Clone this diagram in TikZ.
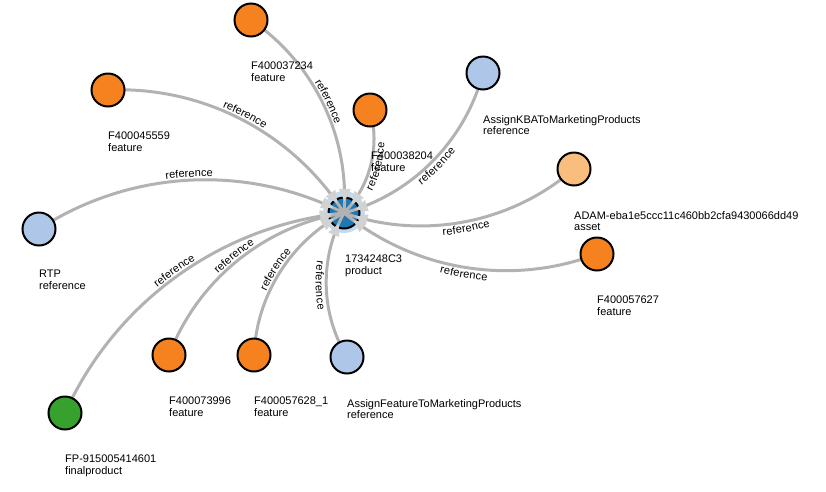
\documentclass[tikz,border=0pt]{standalone}
\usepackage{fontspec}
\setmainfont{Liberation Sans}
\usetikzlibrary{decorations.text,decorations.markings}
\definecolor{edgegray}{HTML}{B2B2B2}
\definecolor{arrowgray}{HTML}{D2D2D2}
\definecolor{featorange}{HTML}{F5821F}
\definecolor{assetorange}{HTML}{F9BE7D}
\definecolor{refblue}{HTML}{AEC7E8}
\definecolor{prodblue}{HTML}{1F77B4}
\definecolor{fpgreen}{HTML}{36A12D}
\definecolor{halo}{HTML}{C3DAEF}
\pgfdeclarelayer{bg}
\pgfdeclarelayer{edges}
\pgfsetlayers{bg,edges,main}
\begin{document}
\begin{tikzpicture}[x=1pt,y=-1pt,
  gnode/.style={circle, draw=black, line width=2pt, minimum size=33pt, inner sep=0pt},
  feat/.style={gnode, fill=featorange},
  asset/.style={gnode, fill=assetorange},
  refnode/.style={gnode, fill=refblue},
  fpnode/.style={gnode, fill=fpgreen},
  halonode/.style={circle, fill=halo, minimum size=42pt, inner sep=0pt},
  prodnode/.style={circle, fill=prodblue, draw=black, line width=2pt, minimum size=31pt, inner sep=0pt},
  lbl/.style={anchor=north west, align=left, inner sep=0pt, font=\fontsize{11}{11.5}\selectfont},
  link/.style={draw=edgegray, line width=3pt,
    postaction={decorate, decoration={markings,
      mark=at position -12pt with {\fill[arrowgray] (0pt,0pt) -- (-12pt,6pt) -- (-12pt,-6pt) -- cycle;}}}},
  bendl/.style={bend left=30, looseness=0.913},
  bendr/.style={bend right=30, looseness=0.913},
  reftext/.style={decorate, decoration={text along path,
    text={|\fontsize{11}{11}\selectfont|reference}, text align=center, raise=3pt}},
  reftextflip/.style={decorate, decoration={text along path,
    text={|\fontsize{11}{11}\selectfont|reference}, text align=center, raise=-10.5pt}},
]
\useasboundingbox (0,0) rectangle (826,491);

% centre node
\begin{pgfonlayer}{bg}
  \node[halonode] (ch) at (344,212) {};
  \node[prodnode] (c) at (344,213) {};
\end{pgfonlayer}

% outer nodes
\node[feat]    (f1) at (251,20)  {};
\node[feat]    (f2) at (108,90)  {};
\node[feat]    (f3) at (370,110) {};
\node[refnode] (r1) at (483,73)  {};
\node[asset]   (a1) at (574,169) {};
\node[feat]    (f4) at (597,254) {};
\node[refnode] (r2) at (39,229)  {};
\node[feat]    (f5) at (169,355) {};
\node[feat]    (f6) at (254,355) {};
\node[refnode] (r3) at (347,357) {};
\node[fpnode]  (g1) at (65,413)  {};

% labels
\node[lbl] (lf1) at (251,62)  {F400037234\\feature};
\node[lbl] (lf2) at (108,132) {F400045559\\feature};
\node[lbl] (lf3) at (371,152) {F400038204\\feature};
\node[lbl] (lr1) at (483,115) {AssignKBAToMarketingProducts\\reference};
\node[lbl] (la1) at (574,211) {ADAM-eba1e5ccc11c460bb2cfa9430066dd49\\asset};
\node[lbl] (lf4) at (597,296) {F400057627\\feature};
\node[lbl] (lr2) at (39,270)  {RTP\\reference};
\node[lbl] (lf5) at (169,397) {F400073996\\feature};
\node[lbl] (lf6) at (254,397) {F400057628\_1\\feature};
\node[lbl] (lr3) at (347,399) {AssignFeatureToMarketingProducts\\reference};
\node[lbl] (lg1) at (65,455)  {FP-915005414601\\finalproduct};
\node[lbl] (lc)  at (345,255) {1734248C3\\product};

% edges
\begin{pgfonlayer}{edges}
  \draw[link] (f1.center) to[bendl] (c.center);
  \draw[link] (f2.center) to[bendl] (c.center);
  \draw[link] (f3.center) to[bendl] (c.center);
  \draw[link] (r1.center) to[bendl] (c.center);
  \draw[link] (a1.center) to[bendl] (c.center);
  \draw[link] (f4.center) to[bendl] (c.center);
  \draw[link] (r2.center) to[bendl] (c.center);
  \draw[link] (f5.center) to[bendl] (c.center);
  \draw[link] (f6.center) to[bendl] (c.center);
  \draw[link] (r3.center) to[bendl] (c.center);
  \draw[link] (g1.center) to[bendl] (c.center);
\end{pgfonlayer}

% edge labels
\path[reftext] (f1.center) to[bendl] (c.center);
\path[reftext] (f2.center) to[bendl] (c.center);
\path[reftext] (r2.center) to[bendl] (c.center);
\path[reftext] (f5.center) to[bendl] (c.center);
\path[reftext] (f6.center) to[bendl] (c.center);
\path[reftext] (g1.center) to[bendl] (c.center);
\path[reftextflip] (c.center) to[bendr] (f3.center);
\path[reftextflip] (c.center) to[bendr] (r1.center);
\path[reftextflip] (c.center) to[bendr] (a1.center);
\path[reftextflip] (c.center) to[bendr] (f4.center);
\path[reftextflip] (c.center) to[bendr] (r3.center);
\end{tikzpicture}
\end{document}
